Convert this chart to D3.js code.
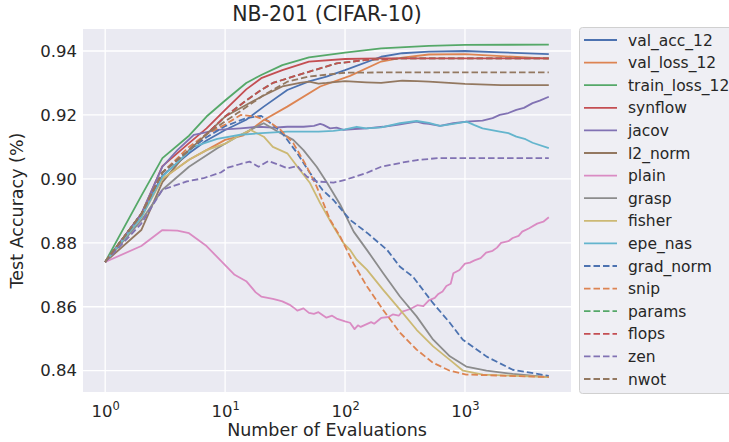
<!DOCTYPE html>
<html>
<head>
<meta charset="utf-8">
<script src="https://cdn.jsdelivr.net/npm/d3@7"></script>
<style>
  body { margin: 0; background: #fff; }
  text { font-family: "DejaVu Sans", sans-serif; fill: #262626; }
</style>
</head>
<body>
<svg id="chart" width="729" height="442"></svg>
<script>
// series values as [evaluations, accuracy]
const valAcc12 = [[1,.874],[2,.889],[3,.901],[5,.908],[7,.912],[10,.9153],[15,.9185],[21,.9226],[33,.9278],[50,.9305],[70,.932],[100,.934],[200,.9382],[300,.9393],[500,.9398],[1000,.94],[2000,.9396],[5000,.939]];
const valLoss12 = [[1,.874],[2,.889],[3,.9],[5,.906],[7,.909],[10,.9122],[14,.9135],[21,.9184],[33,.9226],[62,.9289],[110,.9322],[200,.9367],[300,.9379],[500,.9389],[1000,.939],[2000,.9384],[5000,.9376]];
const trainLoss12 = [[1,.874],[2,.8947],[3,.9065],[5,.9135],[7,.9195],[10,.9245],[15,.93],[20,.9325],[30,.9356],[50,.938],[100,.9395],[200,.9408],[500,.9416],[1000,.9419],[5000,.942]];
const synflow = [[1,.874],[2,.889],[3,.904],[5,.9112],[7,.9158],[10,.9216],[15,.928],[20,.9315],[30,.934],[50,.9367],[100,.9375],[200,.9377],[5000,.9377]];
const jacov = [[1,.874],[2,.889],[3,.9038],[4,.909],[5.5,.9138],[8.6,.9153],[13.4,.9158],[19,.9163],[25,.916],[33,.9163],[45,.9163],[55,.9166],[62,.9172],[66,.9169],[75,.9158],[85,.916],[97,.9153],[120,.9156],[152,.9158],[208,.9163],[280,.917],[395,.9179],[450,.9174],[500,.9172],[620,.9166],[800,.9174],[1030,.9179],[1400,.9182],[1700,.919],[1950,.92],[2300,.9206],[2680,.9216],[3100,.9222],[3660,.9237],[4200,.9245],[5000,.9257]];
const l2Norm = [[1,.874],[2,.884],[3,.899],[5,.909],[7,.914],[10,.9195],[20,.9257],[30,.9289],[42,.93],[50,.9304],[60,.9298],[70,.93],[100,.9306],[150,.9302],[200,.93],[300,.9307],[400,.9306],[500,.9304],[1000,.9297],[2000,.9293],[5000,.9293]];
const plain = [[1,.874],[2,.879],[3,.884],[4,.8838],[5,.883],[7,.879],[10,.873],[12,.87],[15,.868],[18,.8645],[20,.8632],[25,.8625],[28,.862],[30,.8617],[35,.8605],[38,.8595],[40,.8588],[45,.8595],[50,.8581],[55,.8578],[60,.8583],[70,.8566],[78,.8572],[85,.8563],[100,.8554],[110,.855],[120,.853],[128,.8542],[135,.8537],[150,.8545],[165,.8552],[175,.8547],[200,.8565],[230,.8568],[250,.8576],[280,.8572],[300,.8585],[350,.8593],[400,.8605],[450,.8602],[500,.862],[560,.8628],[600,.864],[650,.8648],[700,.8665],[760,.8672],[800,.8705],[900,.8715],[1000,.8735],[1100,.8738],[1200,.8745],[1350,.8752],[1500,.8769],[1700,.8775],[1850,.8785],[2000,.88],[2300,.8805],[2500,.8815],[2800,.8822],[3000,.8835],[3400,.8845],[4000,.886],[4500,.8866],[5000,.888]];
const grasp = [[1,.874],[2,.887],[3,.8966],[5,.9038],[8.6,.9096],[12.6,.9132],[19.6,.9169],[21,.9174],[29,.9143],[37,.9122],[45,.909],[58,.9038],[71,.8987],[91,.892],[118,.8835],[152,.8778],[208,.8705],[287,.8632],[395,.857],[543,.8497],[748,.8445],[1025,.8413],[1510,.84],[2500,.839],[5000,.838]];
const fisher = [[1,.874],[2,.888],[3,.9],[5,.906],[7,.909],[10,.911],[13,.9135],[16.3,.9153],[21,.9132],[25,.91],[33,.908],[42,.9028],[51,.8987],[62,.8924],[80,.8851],[97,.8799],[110,.8778],[125,.8747],[152,.8716],[208,.8653],[287,.8591],[395,.8528],[543,.8476],[748,.8434],[964,.84],[1410,.8388],[5000,.838]];
const epeNas = [[1,.874],[2,.888],[3,.9007],[5.5,.9101],[8.6,.9125],[13.4,.9138],[20,.9143],[33,.9148],[60,.9148],[80,.915],[100,.9155],[125,.9163],[150,.9158],[200,.9161],[287,.9174],[395,.9181],[500,.9175],[620,.9166],[800,.9172],[1030,.9179],[1200,.9168],[1400,.9158],[1950,.9148],[2300,.9143],[2680,.9132],[3200,.9124],[3660,.9113],[5000,.9096]];
const gradNorm = [[1,.874],[2,.889],[3,.902],[5,.909],[7,.913],[10,.9165],[15,.919],[20,.9197],[25,.9169],[30,.9143],[40,.908],[50,.9023],[65,.8965],[80,.8934],[110,.8872],[153,.8831],[224,.8778],[287,.8725],[368,.8694],[540,.8612],[747,.855],[959,.8497],[1518,.8444],[2495,.8403],[5000,.8384]];
const snip = [[1,.874],[2,.889],[3,.902],[5,.91],[7,.914],[10,.917],[13.5,.92],[18,.9195],[23,.918],[29,.9153],[37,.9112],[48,.9038],[58,.8976],[75,.8872],[91,.882],[117,.8737],[152,.8664],[207,.8591],[287,.8519],[395,.8466],[540,.8425],[747,.84],[1024,.8388],[5000,.838]];
const params = [[1,.874],[2,.889],[3,.902],[5,.909],[7,.914],[10,.9195],[15,.9245],[20,.9278],[25,.93],[45,.933],[85,.9361],[150,.9372],[300,.9377],[5000,.9377]];
const flops = [[1,.874],[2,.889],[3,.902],[5,.909],[7,.914],[10,.9195],[15,.9245],[20,.9278],[25,.93],[45,.933],[85,.9361],[150,.9372],[300,.9377],[5000,.9377]];
const zen = [[1,.874],[2,.886],[3,.8966],[4.8,.8992],[6.6,.9002],[9.2,.902],[10.5,.9035],[13,.9045],[16,.9054],[19,.9038],[23,.9056],[28,.9044],[33,.9033],[40,.904],[48,.9007],[58,.8992],[80,.8988],[100,.8997],[150,.9018],[200,.9038],[300,.9051],[400,.9059],[600,.9065],[5000,.9065]];
const nwot = [[1,.874],[2,.889],[3,.902],[5,.909],[7,.914],[10,.918],[12.6,.9205],[21,.9262],[33,.9304],[50,.932],[100,.9332],[200,.9333],[5000,.9333]];

const seriesNames = ['val_acc_12', 'val_loss_12', 'train_loss_12', 'synflow', 'jacov', 'l2_norm', 'plain', 'grasp', 'fisher', 'epe_nas',
    'grad_norm', 'snip', 'params', 'flops', 'zen', 'nwot'];
const seriesValues = [valAcc12, valLoss12, trainLoss12, synflow, jacov, l2Norm, plain, grasp, fisher, epeNas,
    gradNorm, snip, params, flops, zen, nwot];
const seriesDashed = [false, false, false, false, false, false, false, false, false, false,
    true, true, true, true, true, true];

const xTicks = [1, 10, 100, 1000];
const yTicks = [0.84, 0.86, 0.88, 0.90, 0.92, 0.94];

const palette = ['#4C72B0', '#DD8452', '#55A868', '#C44E52', '#8172B3', '#937860', '#DA8BC3', '#8C8C8C', '#CCB974', '#64B5CD'];

const plot = { left: 83, right: 571, top: 29, bottom: 392 };

const svg = d3.select('#chart');

const x = d3.scaleLog()
    .domain([Math.pow(10, -0.185), Math.pow(10, 3.884)])
    .range([plot.left, plot.right]);
const y = d3.scaleLinear()
    .domain([0.83334, 0.94688])
    .range([plot.bottom, plot.top]);

svg.append('rect')
    .attr('x', plot.left)
    .attr('y', plot.top)
    .attr('width', plot.right - plot.left)
    .attr('height', plot.bottom - plot.top)
    .attr('fill', '#EAEAF2');

// grid
const grid = svg.append('g');
grid.selectAll('line.gx')
    .data(xTicks)
    .join('line')
    .attr('x1', d => x(d)).attr('x2', d => x(d))
    .attr('y1', plot.top).attr('y2', plot.bottom)
    .attr('stroke', '#fff').attr('stroke-width', 1.3);
grid.selectAll('line.gy')
    .data(yTicks)
    .join('line')
    .attr('y1', d => y(d)).attr('y2', d => y(d))
    .attr('x1', plot.left).attr('x2', plot.right)
    .attr('stroke', '#fff').attr('stroke-width', 1.3);

// axes (tick text only, seaborn style)
const yAxis = svg.append('g')
    .attr('transform', `translate(${plot.left},0)`)
    .call(d3.axisLeft(y).tickValues(yTicks).tickSize(0).tickPadding(6).tickFormat(d3.format('.2f')));
yAxis.select('.domain').remove();
yAxis.selectAll('text').attr('font-size', 16.5).attr('fill', '#262626')
    .style('font-family', '"DejaVu Sans", sans-serif');

const xAxis = svg.append('g')
    .attr('transform', `translate(0,${plot.bottom})`)
    .call(d3.axisBottom(x).tickValues(xTicks).tickSize(0).tickFormat(''));
xAxis.select('.domain').remove();
xAxis.selectAll('.tick').each(function (d) {
    const t = d3.select(this).append('text')
        .attr('y', 25)
        .attr('text-anchor', 'middle')
        .attr('font-size', 16.5)
        .attr('fill', '#262626');
    t.append('tspan').text('10');
    t.append('tspan').attr('dy', -7).attr('font-size', 11.5).text(Math.round(Math.log10(d)));
});

// lines
const line = d3.line()
    .x(d => x(d[0]))
    .y(d => y(d[1]));

svg.append('g')
    .selectAll('path.series')
    .data(seriesValues)
    .join('path')
    .classed('series', true)
    .attr('d', d => line(d))
    .attr('fill', 'none')
    .attr('stroke', (d, i) => palette[i % 10])
    .attr('stroke-width', 1.8)
    .attr('stroke-linejoin', 'round')
    .attr('stroke-dasharray', (d, i) => seriesDashed[i] ? '6.5,3' : null);

// title & labels
svg.append('text')
    .attr('x', (plot.left + plot.right) / 2)
    .attr('y', 21)
    .attr('text-anchor', 'middle')
    .attr('font-size', 20.5)
    .text('NB-201 (CIFAR-10)');

svg.append('text')
    .attr('x', (plot.left + plot.right) / 2)
    .attr('y', 436)
    .attr('text-anchor', 'middle')
    .attr('font-size', 17.5)
    .text('Number of Evaluations');

svg.append('text')
    .attr('transform', `translate(23,${(plot.top + plot.bottom) / 2}) rotate(-90)`)
    .attr('text-anchor', 'middle')
    .attr('font-size', 17.5)
    .text('Test Accuracy (%)');

// legend
const legend = svg.append('g');
legend.append('rect')
    .attr('x', 579.5)
    .attr('y', 27.5)
    .attr('width', 160)
    .attr('height', 366)
    .attr('rx', 3)
    .attr('fill', '#EFEFF4')
    .attr('stroke', '#D0D0D0');

const legendItems = legend.selectAll('g.item')
    .data(seriesNames)
    .join('g')
    .classed('item', true)
    .attr('transform', (d, i) => `translate(584,${40 + i * 22.6})`);
legendItems.append('line')
    .attr('x1', 0).attr('x2', 33)
    .attr('stroke', (d, i) => palette[i % 10])
    .attr('stroke-width', 1.8)
    .attr('stroke-dasharray', (d, i) => seriesDashed[i] ? '6.5,3' : null);
legendItems.append('text')
    .attr('x', 44)
    .attr('y', 5.5)
    .attr('font-size', 15.5)
    .text(d => d);
</script>
</body>
</html>
